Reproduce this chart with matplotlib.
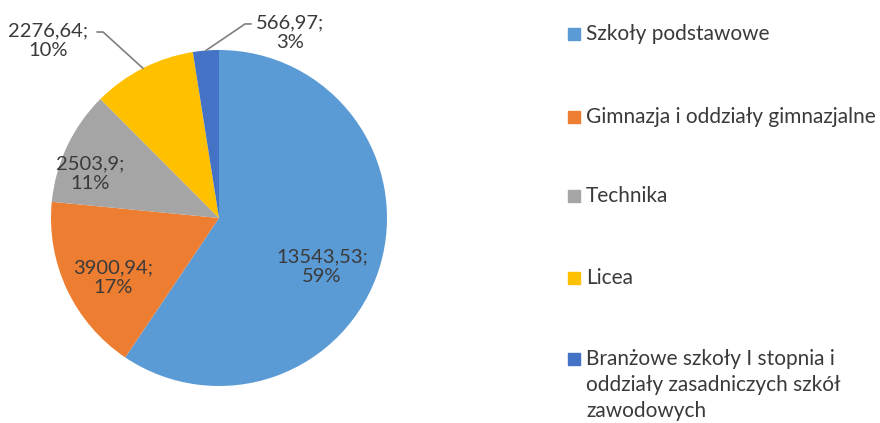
import matplotlib.pyplot as plt
import numpy as np
from matplotlib.patches import Rectangle

categories = ['Szkoły podstawowe', 'Gimnazja i oddziały gimnazjalne', 'Technika',
              'Licea', 'Branżowe szkoły I stopnia i\noddziały zasadniczych szkół\nzawodowych']
values = [13543.53, 3900.94, 2503.9, 2276.64, 566.97]
value_labels = ['13543,53', '3900,94', '2503,9', '2276,64', '566,97']
percents = [59, 17, 11, 10, 3]
colors = ['#5B9BD5', '#ED7D31', '#A5A5A5', '#FFC000', '#4472C4']

# label placement (pie radius = 1)
label_pos = [(0.613, -0.292), (-0.631, -0.357), (-0.768, 0.262), (-1.015, 1.054), (0.423, 1.101)]
elbows = [None, None, None, (-0.69, 1.107), (0.155, 1.155)]

plt.rcParams['font.family'] = ['Lato', 'DejaVu Sans']
txt_color = '#3a3a3a'

W, H = 880, 423
fig = plt.figure(figsize=(W / 100, H / 100), dpi=100)
cx, cy, r = 219, 218, 168
ax = fig.add_axes([(cx - r) / W, (H - cy - r) / H, 2 * r / W, 2 * r / H])
wedges, _ = ax.pie(values, colors=colors, startangle=90, counterclock=False,
                   radius=1, wedgeprops=dict(linewidth=0))
ax.set_xlim(-1, 1)
ax.set_ylim(-1, 1)
ax.set_aspect('auto')
ax.axis('off')

for i, w in enumerate(wedges):
    lx, ly = label_pos[i]
    ax.text(lx, ly, f'{value_labels[i]};\n{percents[i]}%', ha='center', va='center',
            fontsize=14.5, color=txt_color, linespacing=1.2, clip_on=False)
    if elbows[i] is not None:
        mid = np.deg2rad((w.theta1 + w.theta2) / 2)
        ex, ey = np.cos(mid), np.sin(mid)
        bx, by = elbows[i]
        tail = bx - 0.035 if lx < 0 else bx + 0.035
        ax.plot([ex, bx, tail], [ey, by, by], color='#7f7f7f', lw=1.2, clip_on=False)

# legend
leg_y = [34, 117, 196, 278, 359]
for i, cat in enumerate(categories):
    y = leg_y[i]
    fig.patches.append(Rectangle((568 / W, (H - y - 6) / H), 12 / W, 12 / H,
                                 transform=fig.transFigure, color=colors[i]))
    for j, line in enumerate(cat.split('\n')):
        fig.text(586 / W, (H - y - 26 * j) / H, line, ha='left', va='center',
                 fontsize=15, color=txt_color)

fig.savefig('out.png', dpi=100)
